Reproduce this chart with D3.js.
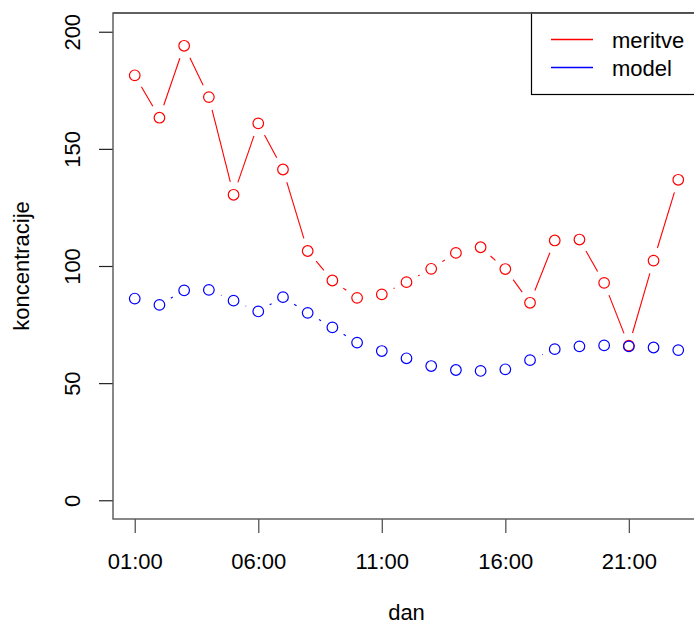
<!DOCTYPE html>
<html>
<head>
<meta charset="utf-8">
<script src="https://cdn.jsdelivr.net/npm/d3@7"></script>
<style>
  html, body { margin: 0; padding: 0; background: #fff; }
  svg { display: block; }
  text { font-family: "Liberation Sans", Arial, Helvetica, sans-serif; fill: #000; }
</style>
</head>
<body>
<svg id="chart" width="694" height="626"></svg>
<script>
// ---- data ----
const hours = [1,2,3,4,5,6,7,8,9,10,11,12,13,14,15,16,17,18,19,20,21,22,23];
const meritve = [181.4,163.3,194.0,172.1,130.4,160.9,141.2,106.4,93.8,86.4,87.9,93.1,98.8,105.6,108.0,98.7,84.3,110.9,111.3,92.8,66.0,102.3,136.8];
const model = [86.1,83.4,89.6,89.8,85.2,80.6,86.7,80.0,73.8,67.3,63.7,60.6,57.3,55.6,55.2,55.9,59.8,64.5,65.7,66.1,65.7,65.2,64.1];
const xTicks = [1,6,11,16,21];
const xTickLabels = ["01:00","06:00","11:00","16:00","21:00"];
const yTicks = [0,50,100,150,200];
const seriesNames = ["meritve","model"];
const seriesColors = ["#ff0000","#0000ff"];

// ---- layout ----
const svg = d3.select("#chart");
const L = 113, R = 700, T = 13, B = 519;
const fs = 22;
const x = d3.scaleLinear().domain([0.12, 23.88]).range([L, R]);
const y = d3.scaleLinear().domain([-8, 208]).range([B, T]);

// axes
const xAxis = d3.axisBottom(x).tickValues(xTicks)
  .tickFormat((d,i) => xTickLabels[i]).tickSize(14).tickSizeOuter(0);
const gx = svg.append("g").attr("transform", `translate(0,${B})`).call(xAxis);
gx.select(".domain").remove();
gx.selectAll(".tick line").attr("stroke", "#555").attr("stroke-width", 1.3);
gx.selectAll(".tick text").attr("y", 50).attr("dy", 0)
  .attr("font-size", fs).attr("fill", "#000")
  .attr("font-family", "Liberation Sans, Arial, sans-serif");

const yAxis = d3.axisLeft(y).tickValues(yTicks).tickSize(14).tickSizeOuter(0);
const gy = svg.append("g").attr("transform", `translate(${L},0)`).call(yAxis);
gy.select(".domain").remove();
gy.selectAll(".tick line").attr("stroke", "#222").attr("stroke-width", 1.2);
gy.selectAll(".tick text")
  .attr("transform", "rotate(-90)")
  .attr("x", 0).attr("y", -33).attr("dy", 0)
  .attr("text-anchor", "middle")
  .attr("font-size", fs).attr("fill", "#000")
  .attr("font-family", "Liberation Sans, Arial, sans-serif");

// plot box
svg.append("rect").attr("x", L).attr("y", T).attr("width", R - L).attr("height", B - T)
  .attr("fill", "none").attr("stroke", "#555").attr("stroke-width", 1.4);

// axis labels
svg.append("text").attr("x", (L + R) / 2).attr("y", 620).attr("text-anchor", "middle")
  .attr("font-size", fs).text("dan");
svg.append("text").attr("transform", `translate(29,${(T + B) / 2}) rotate(-90)`)
  .attr("text-anchor", "middle").attr("font-size", fs).text("koncentracije");

// series, R type="b"
const gap = 13.2, rad = 5.3;
function drawSeries(vals, color) {
  const pts = hours.map((h, i) => [x(h), y(vals[i])]);
  const g = svg.append("g");
  for (let i = 1; i < pts.length; i++) {
    const [x0, y0] = pts[i - 1], [x1, y1] = pts[i];
    const dist = Math.hypot(x1 - x0, y1 - y0);
    const f = gap / dist;
    if (f < 0.5) {
      g.append("line")
        .attr("x1", x0 + f * (x1 - x0)).attr("y1", y0 + f * (y1 - y0))
        .attr("x2", x1 - f * (x1 - x0)).attr("y2", y1 - f * (y1 - y0))
        .attr("stroke", color).attr("stroke-width", 1.1);
    }
  }
  g.selectAll("circle").data(pts).join("circle")
    .attr("cx", d => d[0]).attr("cy", d => d[1]).attr("r", rad)
    .attr("fill", "none").attr("stroke", color).attr("stroke-width", 1.2);
}
drawSeries(meritve, seriesColors[0]);
drawSeries(model, seriesColors[1]);

// legend
const lg = svg.append("g");
lg.append("rect").attr("x", 531.5).attr("y", T).attr("width", 200).attr("height", 94.5 - T)
  .attr("fill", "#fff").attr("stroke", "#000").attr("stroke-width", 1.2);
seriesNames.forEach((name, i) => {
  const ly = 39.5 + i * 28;
  lg.append("line").attr("x1", 551).attr("x2", 593).attr("y1", ly).attr("y2", ly)
    .attr("stroke", seriesColors[i]).attr("stroke-width", 1.3);
  lg.append("text").attr("x", 612).attr("y", ly + 8.5).attr("font-size", fs).text(name);
});
// re-draw box top border over legend
svg.append("line").attr("x1", L).attr("x2", R).attr("y1", T).attr("y2", T)
  .attr("stroke", "#555").attr("stroke-width", 1.4);
</script>
</body>
</html>
